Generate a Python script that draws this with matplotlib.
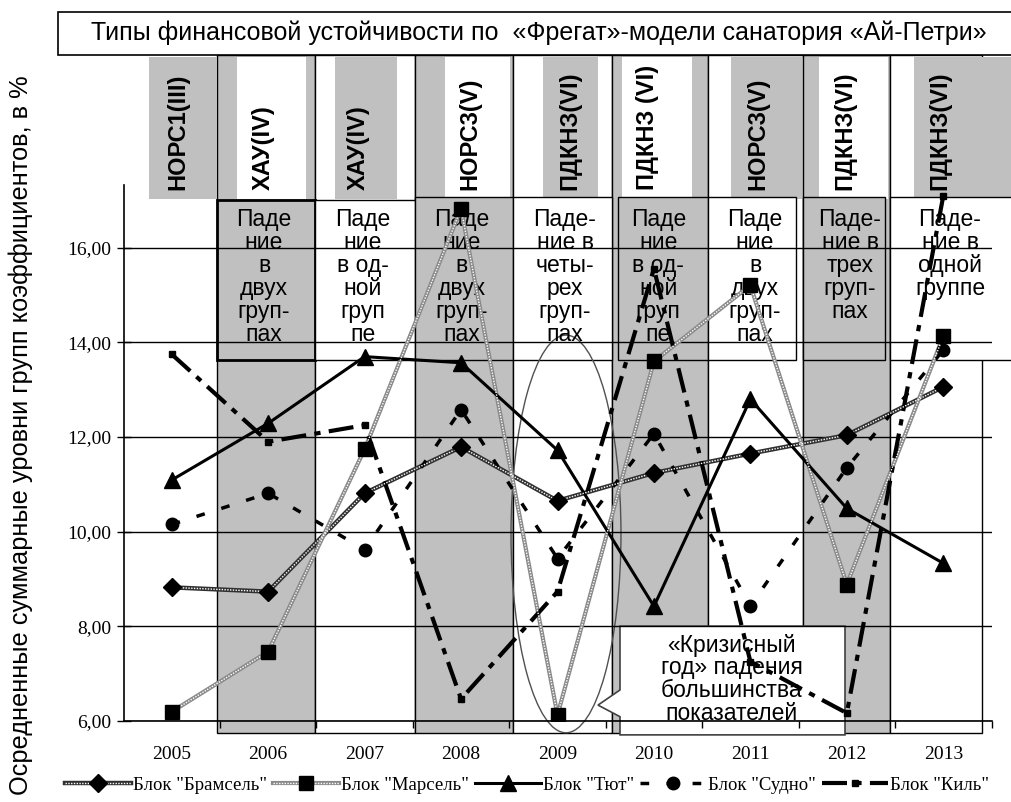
import matplotlib
matplotlib.use('Agg')
import numpy as np
import matplotlib.pyplot as plt
from matplotlib.patches import Rectangle, Ellipse, Polygon
from matplotlib.transforms import blended_transform_factory

# данные
years = ['2005', '2006', '2007', '2008', '2009', '2010', '2011', '2012', '2013']
bramsel = [8.82, 8.73, 10.81, 11.79, 10.65, 11.24, 11.65, 12.04, 13.06]
marsel = [6.19, 7.46, 11.74, 16.83, 6.12, 13.60, 15.21, 8.88, 14.13]
tyut = [11.09, 12.29, 13.70, 13.57, 11.72, 8.42, 12.80, 10.49, 9.33]
sudno = [10.15, 10.81, 9.62, 12.58, 9.43, 12.07, 8.43, 11.35, 13.84]
kil = [13.75, 11.90, 12.25, 6.46, 8.73, 15.56, 7.25, 6.16, 17.10]

types = ['НОРС1(III)', 'ХАУ(IV)', 'ХАУ(IV)', 'НОРС3(V)', 'ПДКНЗ(VI)',
         'ПДКНЗ (VI)', 'НОРС3(V)', 'ПДКНЗ(VI)', 'ПДКНЗ(VI)']
falls = ['Паде\nние\nв\nдвух\nгруп-\nпах',
         'Паде\nние\nв од-\nной\nгруп\nпе',
         'Паде\nние\nв\nдвух\nгруп-\nпах',
         'Паде-\nние в\nчеты-\nрех\nгруп-\nпах',
         'Паде\nние\nв од-\nной\nгруп\nпе',
         'Паде\nние\nв\nдвух\nгруп-\nпах',
         'Паде-\nние в\nтрех\nгруп-\nпах',
         'Паде-\nние в\nодной\nгруппе']
labels = ['Блок "Брамсель"', 'Блок "Марсель"', 'Блок "Тют"', 'Блок "Судно"', 'Блок "Киль"']

SANS = 'Liberation Sans'
SERIF = 'Liberation Serif'
GREY = '#c0c0c0'

W, H = 1011, 802
fig = plt.figure(figsize=(W / 100, H / 100), dpi=100)
ax = fig.add_axes([123.5 / W, 1 - 720.7 / H, 868 / W, 535.7 / H])
ax.patch.set_alpha(0)
x = np.arange(len(years))
ax.set_xlim(-0.5, 8.5)
ax.set_ylim(6, 17.33)


def yf(py):
    # пиксель по вертикали -> доля осей
    return (720.7 - py) / 535.7


tr = blended_transform_factory(ax.transData, ax.transAxes)

# столбцы-полосы
col_edges = [0.47, 1.49, 2.52, 3.54, 4.57, 5.56, 6.55, 7.45, 8.40]
for k in range(8):
    fc = GREY if k % 2 == 0 else 'white'
    ax.add_patch(Rectangle((col_edges[k], yf(733)), col_edges[k + 1] - col_edges[k],
                           yf(55) - yf(733), transform=tr, fc=fc, ec='black',
                           lw=1, clip_on=False, zorder=0.1))

# шапка с типами
hdr_boxes = [(-0.235, 0.470), (0.677, 1.393), (1.693, 2.336), (2.834, 3.508),
             (3.850, 4.420), (4.669, 5.395), (5.799, 6.535), (6.712, 7.428),
             (7.696, 8.75)]
hdr_x = [0.066, 0.946, 1.932, 3.093, 4.130, 4.928, 6.078, 6.981, 7.966]
for i, (a, b) in enumerate(hdr_boxes):
    fc = GREY if i % 2 == 0 else 'white'
    ax.add_patch(Rectangle((a, yf(199)), b - a, yf(57) - yf(199), transform=tr,
                           fc=fc, ec='none', clip_on=False, zorder=0.2))
    ax.text(hdr_x[i], yf(190), types[i], transform=tr, rotation=90, ha='center',
            va='bottom', fontsize=17, fontweight='bold', family=SANS,
            clip_on=False, zorder=0.5)

# ячейки «Падение ...»
fall_boxes = [(0.47, 1.49), (1.49, 2.52), (2.52, 3.54), (3.54, 4.57),
              (4.63, 5.56), (5.56, 6.47), (6.55, 7.40), (7.45, 8.75)]
fall_x = [0.957, 1.98, 3.007, 4.078, 5.045, 6.048, 7.033, 8.07]
for i, (a, b) in enumerate(fall_boxes):
    fc = GREY if i % 2 == 0 else 'white'
    top = 200 if i < 2 else 197
    ax.add_patch(Rectangle((a, yf(360)), b - a, yf(top) - yf(360), transform=tr,
                           fc=fc, ec='black', lw=2 if i == 0 else 1,
                           clip_on=False, zorder=0.25))
    ax.text(fall_x[i], yf(208), falls[i], transform=tr, ha='center', va='top',
            fontsize=16.5, family=SANS, linespacing=1.0, clip_on=False, zorder=0.5)

# выноска «Кризисный год»
ax.add_patch(Polygon([(4.648, 8.0), (6.981, 8.0), (6.981, 5.70), (4.648, 5.70),
                      (4.648, 6.085), (4.42, 6.33), (4.648, 6.65)], closed=True,
                     fc='white', ec='#404040', lw=1.2, clip_on=False, zorder=0.3))
ax.text(5.806, 7.84, '«Кризисный\nгод» падения\nбольшинства\nпоказателей',
        ha='center', va='top', fontsize=16.5, family=SANS, linespacing=0.98,
        zorder=0.5)
ax.add_patch(Ellipse((4.088, 9.95), 1.14, 8.41, fill=False, ec='#505050', lw=1,
                     clip_on=False, zorder=0.4))

# серии
h = []
l1, = ax.plot(x, bramsel, color='#303030', lw=3.2, zorder=2)
l2, = ax.plot(x, bramsel, color='white', lw=1, ls=(0, (1, 1)), zorder=2.01)
l3, = ax.plot(x, bramsel, ls='none', marker='D', ms=9, color='black', zorder=2.02)
h.append((l1, l2, l3))
l1, = ax.plot(x, marsel, color='#8a8a8a', lw=3, zorder=2)
l2, = ax.plot(x, marsel, color='white', lw=1, ls=(0, (1, 1)), zorder=2.01)
l3, = ax.plot(x, marsel, ls='none', marker='s', ms=10, color='black', zorder=2.02)
h.append((l1, l2, l3))
l1, = ax.plot(x, tyut, color='black', lw=2.2, marker='^', ms=11, zorder=2)
h.append(l1)
l1, = ax.plot(x, sudno, color='black', lw=2.5, ls=(0, (2.5, 5)), marker='o',
              ms=9, zorder=2)
h.append(l1)
l1, = ax.plot(x, kil, color='black', lw=3, ls=(0, (6, 2, 1.5, 2)), marker='s',
              ms=5, zorder=2)
h.append(l1)

# оси
ax.yaxis.grid(True, color='black', lw=1)
ax.set_yticks([6, 8, 10, 12, 14, 16])
ax.set_yticklabels([f'{v:.2f}'.replace('.', ',') for v in [6, 8, 10, 12, 14, 16]],
                   family=SERIF)
ax.tick_params(axis='y', direction='inout', length=10, width=1, labelsize=14, pad=4)
ax.set_xticks(x)
ax.set_xticklabels(years, family=SERIF)
ax.set_xticks(np.arange(0.5, 9, 1), minor=True)
ax.tick_params(axis='x', which='major', length=0, pad=18, labelsize=14)
ax.tick_params(axis='x', which='minor', direction='out', length=5, width=1)
for s in ['top', 'right']:
    ax.spines[s].set_visible(False)
for s in ['left', 'bottom']:
    ax.spines[s].set_linewidth(1.2)

# заголовок
fig.patches.append(Rectangle((58 / W, 1 - 55 / H), 1.1, (55 - 11.7) / H,
                             transform=fig.transFigure, fc='white', ec='black',
                             lw=1.2, zorder=0.5))
fig.text(539 / W, 1 - 33 / H,
         'Типы финансовой устойчивости по  «Фрегат»-модели санатория «Ай-Петри»',
         ha='center', va='center', fontsize=18, family=SANS)
fig.text(21 / W, 1 - 435 / H, 'Осредненные суммарные уровни групп коэффициентов, в %',
         rotation=90, ha='center', va='center', fontsize=18.3, family=SANS)

fig.legend(h, labels, loc='center', bbox_to_anchor=(527 / W, 1 - 785 / H), ncol=5,
           frameon=False, prop={'family': SERIF, 'size': 13.5}, handlelength=3.5,
           handletextpad=0.1, columnspacing=0.35, borderpad=0)

fig.savefig('out.png', dpi=100)
